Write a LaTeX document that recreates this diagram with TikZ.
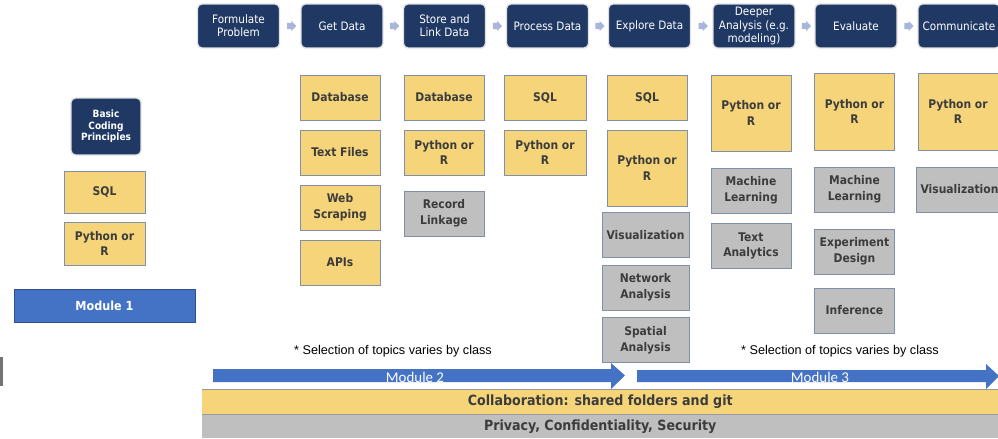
\documentclass[tikz,border=0pt]{standalone}
\usepackage{fontspec}
\setmainfont{DejaVu Sans Condensed}
\newfontfamily\notefont{Liberation Sans}
\newfontfamily\modfont{Carlito}
\usetikzlibrary{shapes.arrows,calc}
\definecolor{navy}{RGB}{32,56,100}
\definecolor{ylw}{RGB}{245,212,122}
\definecolor{gry}{RGB}{191,191,191}
\definecolor{edge}{RGB}{128,144,172}
\definecolor{txt}{RGB}{60,60,60}
\definecolor{modblue}{RGB}{68,114,196}
\definecolor{chevc}{RGB}{168,182,219}

\begin{document}
\begin{tikzpicture}[x=0.02cm, y=-0.02cm,
    hdr/.style={fill=navy, draw=black!12, line width=0.8pt, rounded corners=2.5pt, text=white, minimum width=1.64cm, minimum height=0.88cm, align=center, inner sep=1pt, font=\fontsize{6.6}{7.6}\selectfont},
    topic/.style={fill=ylw, draw=edge, line width=0.5pt, text=txt, minimum width=1.6cm, minimum height=0.9cm, align=center, inner sep=1pt, font=\bfseries\fontsize{6.8}{9}\selectfont},
    extra/.style={topic, fill=gry},
    chev/.style={single arrow, fill=chevc, minimum height=0.17cm, minimum width=0.19cm, single arrow head extend=0.04cm, inner sep=0.055cm},
    note/.style={font=\notefont\fontsize{7.2}{8}\selectfont},
    modtext/.style={text=white, font=\modfont\fontsize{8.5}{9}\selectfont},
    band/.style={minimum width=15.92cm, minimum height=0.5cm, inner sep=0pt, text=txt, font=\bfseries\fontsize{8}{9}\selectfont}]
    \useasboundingbox (0,0) rectangle (998,439);
    \clip (0,0) rectangle (998,439);

    \node[hdr] (formulate) at (238.5,26) {Formulate\\Problem};
    \node[hdr] (getdata) at (342,26) {Get Data};
    \node[hdr] (store) at (444.5,26) {Store and\\Link Data};
    \node[hdr] (process) at (547.5,26) {Process Data};
    \node[hdr] (explore) at (649.5,26) {Explore Data};
    \node[hdr] (deeper) at (754,26) {Deeper\\Analysis (e.g.\\modeling)};
    \node[hdr] (evaluate) at (856,26) {Evaluate};
    \node[hdr] (communicate) at (959,26) {Communicate};
    \foreach \a/\b in {formulate/getdata, getdata/store, store/process, process/explore, explore/deeper, deeper/evaluate, evaluate/communicate}
        \node[chev] at ($(\a.east)!0.5!(\b.west)$) {};

    \node[hdr, minimum width=1.4cm, minimum height=1.14cm, font=\bfseries\fontsize{5.7}{6.6}\selectfont] (basics) at (106,126.5) {Basic\\Coding\\Principles};
    \node[topic, minimum width=1.62cm, minimum height=0.84cm] (sqlA) at (104.5,192) {SQL};
    \node[topic, minimum width=1.62cm, minimum height=0.86cm] (pyA) at (104.5,243.5) {Python or\\R};
    \node[fill=modblue, draw=modblue!70!black, line width=0.4pt, minimum width=3.62cm, minimum height=0.66cm, text=white, font=\bfseries\fontsize{7.1}{8}\selectfont] (mod1) at (104.5,305.5) {Module 1};

    \node[topic] (dbB) at (340,97.5) {Database};
    \node[topic] (textB) at (340,152.5) {Text Files};
    \node[topic] (webB) at (340,207.5) {Web\\Scraping};
    \node[topic] (apiB) at (340,262.5) {APIs};

    \node[topic] (dbC) at (444,97.5) {Database};
    \node[topic] (pyC) at (444,152.5) {Python or\\R};
    \node[extra] (linkC) at (444,213.5) {Record\\Linkage};

    \node[topic, minimum width=1.64cm] (sqlD) at (545,97.5) {SQL};
    \node[topic, minimum width=1.64cm] (pyD) at (545,152.5) {Python or\\R};

    \node[topic] (sqlE) at (647,97.5) {SQL};
    \node[topic, minimum height=1.52cm] (pyE) at (647,168) {Python or\\R};
    \node[extra, minimum width=1.74cm] (visE) at (645.5,235) {Visualization};
    \node[extra, minimum width=1.74cm] (netE) at (645.5,287.5) {Network\\Analysis};
    \node[extra, minimum width=1.74cm] (spatE) at (645.5,340) {Spatial\\Analysis};

    \node[topic, minimum height=1.52cm] (pyF) at (751,113) {Python or\\R};
    \node[extra] (mlF) at (751,190.5) {Machine\\Learning};
    \node[extra] (taF) at (751,246) {Text\\Analytics};

    \node[topic, minimum height=1.54cm] (pyG) at (854.5,111.5) {Python or\\R};
    \node[extra] (mlG) at (854.5,189.5) {Machine\\Learning};
    \node[extra] (expG) at (854.5,251.5) {Experiment\\Design};
    \node[extra] (infG) at (854.5,310.5) {Inference};

    \node[topic, minimum height=1.54cm] (pyH) at (958,111.5) {Python or\\R};
    \node[extra, minimum width=1.74cm] (visH) at (959.5,189.5) {Visualization};

    \node[note] (noteA) at (393,351) {* Selection of topics varies by class};
    \node[note] (noteB) at (840,351) {* Selection of topics varies by class};

    \fill[modblue] (213,369) -- (611,369) -- (611,363) -- (625,375.5) -- (611,389) -- (611,382) -- (213,382) -- cycle;
    \node[modtext] (mod2) at (415,377) {Module 2};
    \fill[modblue] (637,370) -- (986,370) -- (986,364) -- (999,376) -- (986,389) -- (986,382) -- (637,382) -- cycle;
    \node[modtext] (mod3) at (820,377.5) {Module 3};

    \node[band, fill=ylw, anchor=north west] (collab) at (202,389) {Collaboration: shared folders and git};
    \node[band, fill=gry, anchor=north west, minimum height=0.48cm] (privacy) at (202,414) {Privacy, Confidentiality, Security};
    \draw[black!40, line width=0.4pt] (collab.north west) -- (collab.north east);
    \draw[black!40, line width=0.4pt] (collab.south west) -- (collab.south east);

    \fill[black!55] (0,357) rectangle (3,386);
\end{tikzpicture}
\end{document}
